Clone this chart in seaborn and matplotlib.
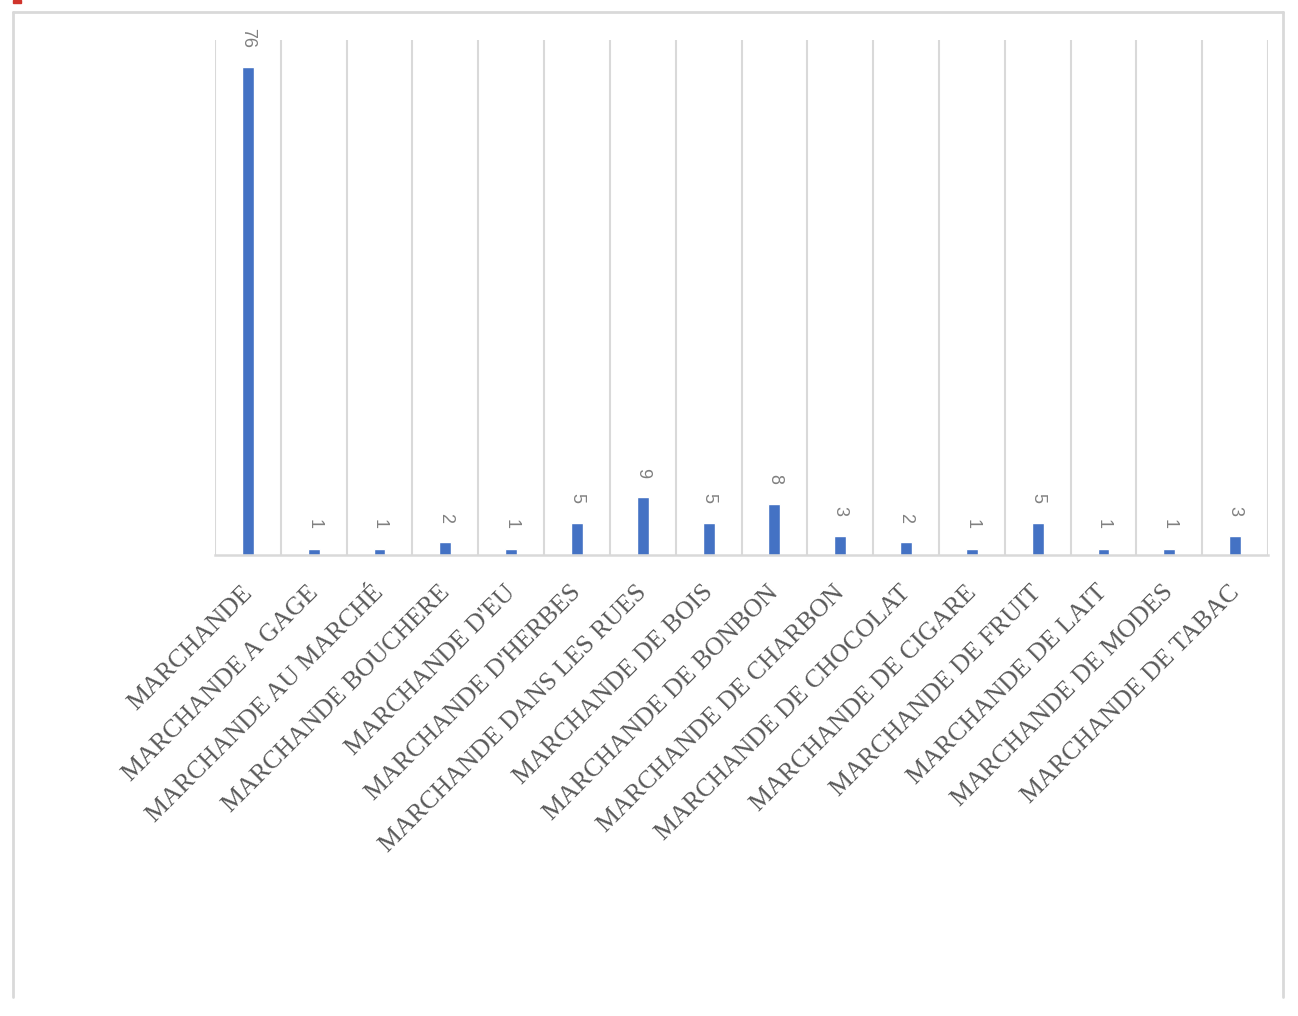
import matplotlib
matplotlib.use("Agg")
import matplotlib.pyplot as plt
import matplotlib.transforms as mtransforms
import seaborn as sns
import pandas as pd
import numpy as np
from matplotlib.lines import Line2D
from matplotlib.patches import Rectangle

categories = [
    "MARCHANDE", "MARCHANDE A GAGE", "MARCHANDE AU MARCHÉ", "MARCHANDE BOUCHERE",
    "MARCHANDE D'EU", "MARCHANDE D'HERBES", "MARCHANDE DANS LES RUES",
    "MARCHANDE DE BOIS", "MARCHANDE DE BONBON", "MARCHANDE DE CHARBON",
    "MARCHANDE DE CHOCOLAT", "MARCHANDE DE CIGARE", "MARCHANDE DE FRUIT",
    "MARCHANDE DE LAIT", "MARCHANDE DE MODES", "MARCHANDE DE TABAC",
]
values = [76, 1, 1, 2, 1, 5, 9, 5, 8, 3, 2, 1, 5, 1, 1, 3]

df = pd.DataFrame({"cat": categories, "val": values})

sns.set_theme(style="white")
W, H = 1298, 1016
fig = plt.figure(figsize=(W / 100, H / 100), dpi=100)
ax = fig.add_axes([215 / W, 1 - 555 / H, (1268 - 215) / W, (555 - 40) / H])

sns.barplot(data=df, x="cat", y="val", color="#4472C4", width=0.18,
            saturation=1, ax=ax, order=categories)

ax.set_xlim(-0.5, len(categories) - 0.5)
ax.set_ylim(0, 80.2)
ax.set_xlabel("")
ax.set_ylabel("")
ax.set_yticks([])

# vertical gridlines at category boundaries
ax.set_xticks(np.arange(-0.5, len(categories), 1.0), minor=True)
ax.grid(which="minor", axis="x", color="#d9d9d9", linewidth=1.5)
ax.tick_params(axis="x", which="both", length=0)
for s in ["top", "right", "left"]:
    ax.spines[s].set_visible(False)
ax.spines["bottom"].set_color("#d9d9d9")
ax.spines["bottom"].set_linewidth(1.8)

ax.set_xticks(range(len(categories)))
ax.set_xticklabels(categories, rotation=45, ha="right", va="top",
                   rotation_mode="anchor", fontsize=18.5,
                   family=["Liberation Serif", "DejaVu Serif"], color="#595959")
ax.tick_params(axis="x", which="major", pad=19)
shift = mtransforms.ScaledTranslation(-7 / 100, 0, fig.dpi_scale_trans)
for lab in ax.get_xticklabels():
    lab.set_transform(lab.get_transform() + shift)

for i, v in enumerate(values):
    ax.annotate(str(v), xy=(i, v), xytext=(0, 14), textcoords="offset points",
                ha="center", va="bottom", rotation=-90, fontsize=13,
                color="#808080", family=["Liberation Sans", "DejaVu Sans"])

# outer frame (bottom edge cut off)
fc = "#d9d9d9"
fig.add_artist(Line2D([13 / W, 13 / W], [1 - 997 / H, 1 - 12 / H], color=fc, lw=2, transform=fig.transFigure))
fig.add_artist(Line2D([1283 / W, 1283 / W], [1 - 997 / H, 1 - 12 / H], color=fc, lw=2, transform=fig.transFigure))
fig.add_artist(Line2D([13 / W, 1283 / W], [1 - 12 / H, 1 - 12 / H], color=fc, lw=2, transform=fig.transFigure))
fig.add_artist(Rectangle((13 / W, 1 - 3 / H), 8 / W, 3 / H, color="#d0342c", transform=fig.transFigure))

fig.savefig("out.png", dpi=100)
